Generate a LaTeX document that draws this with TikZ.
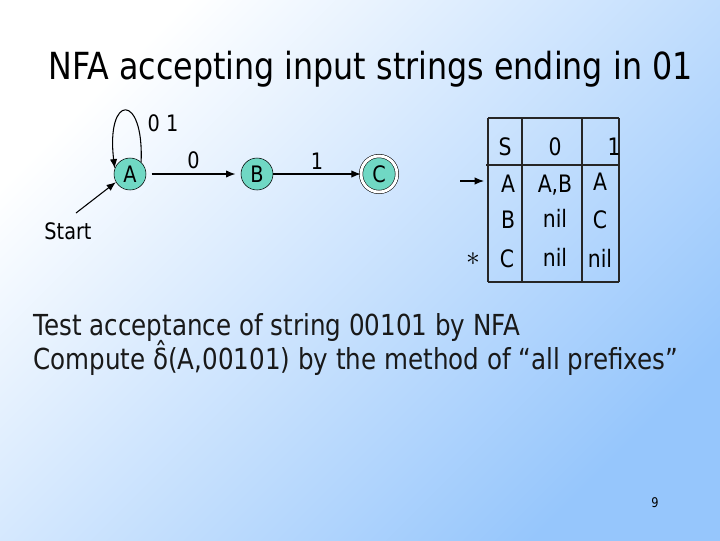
\documentclass[tikz,border=0pt]{standalone}
\usepackage{fontspec}
\setmainfont{DejaVu Sans}[FakeStretch=0.85]
\usepackage{xcolor}
\usetikzlibrary{arrows.meta}
\definecolor{slideblue}{RGB}{150,198,252}
\definecolor{statefill}{RGB}{112,216,196}
\definecolor{bodytext}{RGB}{25,25,25}
\tikzset{
    state/.style={circle, draw=black, fill=statefill, minimum size=24pt, inner sep=0pt,
        font=\fontsize{17}{20}\selectfont},
    accepting/.style={double, double distance=2.2pt, minimum size=27pt},
    trans/.style={-{Latex[length=7pt,width=5.5pt]}, line width=0.8pt},
    edgelabel/.style={font=\fontsize{17}{20}\selectfont},
    cell/.style={anchor=base, font=\fontsize{18}{22}\selectfont},
    tabline/.style={line width=0.8pt, color=black!85},
    textline/.style={anchor=base west, inner sep=0pt, text=bodytext, font=\fontsize{21.7}{26}\selectfont}
}

\begin{document}
\begin{tikzpicture}[x=0.75pt, y=-0.75pt]
    % slide background
    \shade[top color=white, bottom color=slideblue, shading angle=45] (0,0) rectangle (720,540);
    \useasboundingbox (0,0) rectangle (720,540);
    \node[anchor=base west, inner sep=0pt, font=\fontsize{28}{34}\selectfont] (title) at (48,79) {NFA accepting input strings ending in 01};
    % the automaton
    \node[state] (A) at (130,174) {A};
    \node[state] (B) at (257,174) {B};
    \node[state, accepting] (C) at (379,174) {C};
    \draw[trans, shorten <=4pt, shorten >=4pt] (A) -- (B) node[edgelabel, midway, above] (lab0) {0};
    \draw[trans] (B) -- (C) node[edgelabel, midway, above] (lab1) {1};
    \draw[trans] (A.47) .. controls +(3,-70) and +(-9,-75) .. (A.160);
    \node[edgelabel] (loop label) at (163,123) {0 1};
    \node[edgelabel] (start) at (68,231) {Start};
    \coordinate (start tail) at (76,213);
    \draw[trans] (start tail) -- (A.210);
    % transition table
    \draw[tabline] (488,118) -- (619,118);
    \draw[tabline] (486,165) -- (619,165);
    \draw[tabline] (488,282) -- (619,282);
    \draw[tabline] (488,118) -- (488,282);
    \draw[tabline] (522,118) -- (522,282);
    \draw[tabline] (582,118) -- (582,282);
    \draw[tabline] (619,118) -- (619,282);
    \node[cell] (hS) at (505,155) {S};
    \node[cell] (h0) at (555,155) {0};
    \node[cell] (h1) at (614,155) {1};
    \node[cell] (sA) at (508,192) {A};
    \node[cell] (A0) at (555,192) {A,B};
    \node[cell] (A1) at (600,190) {A};
    \node[cell] (sB) at (508,228) {B};
    \node[cell] (B0) at (555,227) {nil};
    \node[cell] (B1) at (600,228) {C};
    \node[cell] (sC) at (507,267) {C};
    \node[cell] (C0) at (555,266) {nil};
    \node[cell] (C1) at (600,267) {nil};
    \coordinate (row tail) at (460,181);
    \coordinate (row tip) at (484,181);
    \draw[trans] (row tail) -- (row tip);
    \node[font=\fontsize{20}{22}\selectfont] (final) at (473,259) {$\ast$};
    % question
    \node[textline] (line1) at (33,335) {Test acceptance of string 00101 by NFA};
    \node[textline] (line2) at (33,369) {Compute \^{δ}(A,00101) by the method of “all prefixes”};
    \node[font=\fontsize{10}{12}\selectfont] (page) at (655,503) {9};
\end{tikzpicture}
\end{document}
